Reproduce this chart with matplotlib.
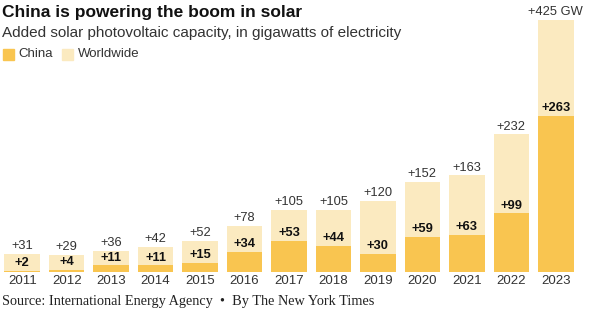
import numpy as np
import matplotlib.pyplot as plt
from matplotlib.patches import Rectangle

years = ['2011', '2012', '2013', '2014', '2015', '2016', '2017',
         '2018', '2019', '2020', '2021', '2022', '2023']
worldwide = [31, 29, 36, 42, 52, 78, 105, 105, 120, 152, 163, 232, 425]
china = [2, 4, 11, 11, 15, 34, 53, 44, 30, 59, 63, 99, 263]

c_china = '#F9C550'
c_world = '#FBEAC0'
sans = 'Liberation Sans'

fig = plt.figure(figsize=(5.89, 3.22), dpi=100)
ax = fig.add_axes([0.0, 50/322, 578/589, 252/322])

x = np.arange(len(years))
ax.bar(x, worldwide, width=0.8, color=c_world)
ax.bar(x, china, width=0.8, color=c_china)

for i in range(len(years)):
    w_lbl = '+%d' % worldwide[i]
    if i == len(years) - 1:
        w_lbl += ' GW'
    ax.text(x[i], worldwide[i] + 3, w_lbl, ha='center', va='bottom',
            fontsize=9.3, color='#333333', family=sans)
    ax.text(x[i], china[i] + 3, '+%d' % china[i], ha='center', va='bottom',
            fontsize=9.3, fontweight='bold', color='#111111', family=sans)

ax.set_xlim(-0.5, len(years) - 0.5)
ax.set_ylim(0, 425)
ax.set_xticks(x)
ax.set_xticklabels(years, fontsize=9.5, color='#333333', family=sans)
ax.tick_params(axis='x', length=0, pad=2)
ax.set_yticks([])
for s in ax.spines.values():
    s.set_visible(False)

fig.text(2/589, 1 - 12/322, 'China is powering the boom in solar',
         fontsize=12.5, fontweight='bold', family=sans, va='center', color='#111111')
fig.text(2/589, 1 - 33/322, 'Added solar photovoltaic capacity, in gigawatts of electricity',
         fontsize=11, family=sans, va='center', color='#333333')

fig.patches.append(Rectangle((3/589, 1 - 60/322), 11/589, 11/322,
                             transform=fig.transFigure, color=c_china, figure=fig))
fig.text(18/589, 1 - 54/322, 'China', fontsize=9.5, family=sans, va='center', color='#333333')
fig.patches.append(Rectangle((62/589, 1 - 60/322), 11/589, 11/322,
                             transform=fig.transFigure, color=c_world, figure=fig))
fig.text(78/589, 1 - 54/322, 'Worldwide', fontsize=9.5, family=sans, va='center', color='#333333')

fig.text(2/589, 1 - 302/322,
         'Source: International Energy Agency  \u2022  By The New York Times',
         fontsize=10.3, family='Liberation Serif', va='center', color='#222222')

fig.savefig('out.png', dpi=100)
